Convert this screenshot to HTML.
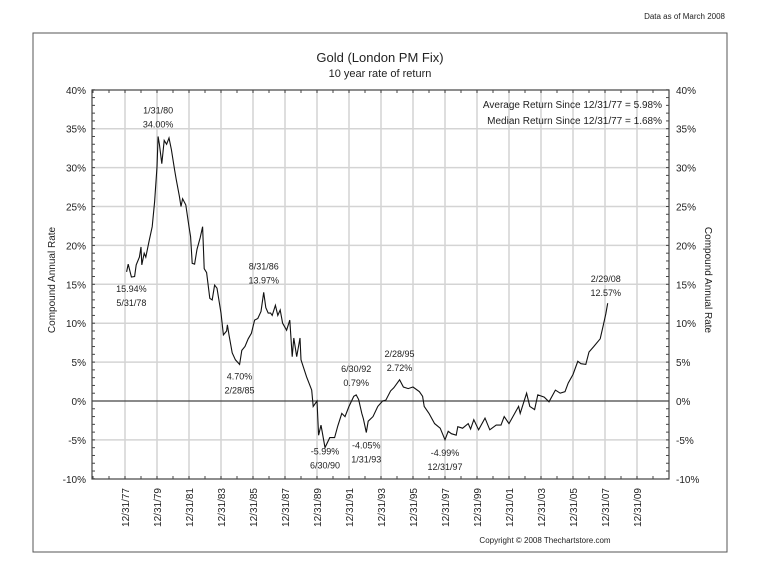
<!DOCTYPE html>
<html><head><meta charset="utf-8"><style>
html,body{margin:0;padding:0;background:#fff;}
svg{display:block;font-family:"Liberation Sans",Arial,sans-serif;}
</style></head><body>
<svg id="chart" width="760" height="587" viewBox="0 0 760 587">
<text x="725" y="19" font-size="8" text-anchor="end" fill="#222">Data as of March 2008</text>
<rect x="33" y="33" width="694" height="519" fill="none" stroke="#555" stroke-width="1"/>
<text x="380" y="62" font-size="13" text-anchor="middle" fill="#222">Gold (London PM Fix)</text>
<text x="380" y="77" font-size="11" text-anchor="middle" fill="#222">10 year rate of return</text>
<g id="grid"></g>
<g id="axes"></g>
<g id="series"></g>
<g id="notes"></g>
<text transform="translate(55,280) rotate(-90)" font-size="10" text-anchor="middle" fill="#222">Compound Annual Rate</text>
<text transform="translate(705,280) rotate(90)" font-size="10" text-anchor="middle" fill="#222">Compound Annual Rate</text>
<text x="662" y="108" font-size="10" text-anchor="end" fill="#222">Average Return Since 12/31/77 =  5.98%</text>
<text x="662" y="124" font-size="10" text-anchor="end" fill="#222">Median Return Since 12/31/77 =  1.68%</text>
<text x="545" y="543" font-size="8" text-anchor="middle" fill="#222">Copyright © 2008 Thechartstore.com</text>
</svg>
<script>
const years=[1978.1,1978.2,1978.4,1978.6,1978.7,1978.9,1979.0,1979.05,1979.2,1979.3,1979.5,1979.7,1979.85,1980.0,1980.07,1980.15,1980.3,1980.45,1980.6,1980.75,1980.9,1981.1,1981.2,1981.4,1981.5,1981.6,1981.8,1982.0,1982.1,1982.2,1982.35,1982.5,1982.7,1982.85,1982.95,1983.1,1983.3,1983.45,1983.6,1983.75,1984.0,1984.15,1984.35,1984.4,1984.5,1984.7,1984.9,1985.16,1985.3,1985.5,1985.7,1985.9,1986.1,1986.3,1986.5,1986.67,1986.8,1986.95,1987.1,1987.2,1987.4,1987.55,1987.7,1987.85,1988.1,1988.3,1988.45,1988.55,1988.73,1988.94,1989.0,1989.35,1989.67,1989.76,1990.0,1990.1,1990.25,1990.5,1990.8,1991.1,1991.3,1991.55,1991.75,1992.0,1992.3,1992.45,1992.6,1992.8,1992.9,1993.08,1993.2,1993.5,1993.8,1994.1,1994.3,1994.6,1994.8,1995.16,1995.4,1995.7,1996.0,1996.4,1996.6,1996.7,1997.0,1997.35,1997.7,1998.0,1998.2,1998.4,1998.7,1998.8,1999.1,1999.45,1999.6,1999.8,2000.1,2000.5,2000.8,2001.2,2001.5,2001.7,2002.0,2002.6,2002.7,2003.1,2003.3,2003.6,2003.8,2004.2,2004.5,2004.9,2005.2,2005.5,2005.7,2006.0,2006.3,2006.5,2006.8,2007.0,2007.3,2007.7,2007.9,2008.05,2008.17];
const returns=[16.6,17.6,15.94,16.0,17.5,18.5,19.8,17.5,19.0,18.5,20.5,22.4,25.6,30.1,34.0,33.0,30.5,33.5,33.0,33.8,32.3,29.7,28.5,26.3,25.0,26.0,25.2,22.4,21.1,17.7,17.6,19.5,21.0,22.4,17.0,16.5,13.2,13.0,14.9,14.5,11.3,8.5,9.0,9.8,8.5,6.2,5.3,4.70,6.5,7.0,8.0,8.7,10.4,10.6,11.5,13.97,12.0,11.3,11.3,11.0,12.3,11.0,11.7,10.0,9.1,10.4,5.7,8.1,5.7,8.1,5.3,3.1,1.4,-0.7,0.0,-4.4,-3.1,-5.99,-4.7,-4.7,-3.2,-1.6,-2.0,-0.7,0.6,0.79,0.2,-1.6,-2.3,-4.05,-2.6,-2.0,-0.7,0.0,0.1,1.3,1.7,2.72,1.8,1.6,1.8,1.2,0.6,-0.7,-1.6,-2.9,-3.5,-4.99,-3.9,-4.2,-4.4,-3.3,-3.5,-2.9,-3.6,-2.4,-3.7,-2.2,-3.7,-3.1,-3.1,-2.0,-2.9,-0.7,-1.6,1.0,-0.7,-1.1,0.8,0.5,-0.1,1.4,1.0,1.2,2.3,3.4,5.1,4.8,4.7,6.3,7.0,8.0,9.8,11.2,12.57];
const yTicks=[-10,-5,0,5,10,15,20,25,30,35,40];
const xTickLabels=["12/31/77","12/31/79","12/31/81","12/31/83","12/31/85","12/31/87","12/31/89","12/31/91","12/31/93","12/31/95","12/31/97","12/31/99","12/31/01","12/31/03","12/31/05","12/31/07","12/31/09"];
const xTickYears=[1978,1980,1982,1984,1986,1988,1990,1992,1994,1996,1998,2000,2002,2004,2006,2008,2010];
const annotations=[
 {yr:1980.07,v:34.0,a:"1/31/80",b:"34.00%",dx:0,dy:-23},
 {yr:1978.4,v:15.94,a:"15.94%",b:"5/31/78",dx:0,dy:15},
 {yr:1986.67,v:13.97,a:"8/31/86",b:"13.97%",dx:0,dy:-23},
 {yr:1985.16,v:4.70,a:"4.70%",b:"2/28/85",dx:0,dy:15},
 {yr:1990.5,v:-5.99,a:"-5.99%",b:"6/30/90",dx:0,dy:7},
 {yr:1992.45,v:0.79,a:"6/30/92",b:"0.79%",dx:0,dy:-23},
 {yr:1993.08,v:-4.05,a:"-4.05%",b:"1/31/93",dx:0,dy:16},
 {yr:1995.16,v:2.72,a:"2/28/95",b:"2.72%",dx:0,dy:-23},
 {yr:1998.0,v:-4.99,a:"-4.99%",b:"12/31/97",dx:0,dy:16},
 {yr:2008.17,v:12.57,a:"2/29/08",b:"12.57%",dx:-2,dy:-21}
];
const L=92,R=669,T=90,B=479;
const X=y=>125+(y-1978)*16;
const Y=v=>401-(v)*7.78;
const NS="http://www.w3.org/2000/svg";
function mk(tag,attrs,parent){const e=document.createElementNS(NS,tag);for(const k in attrs)e.setAttribute(k,attrs[k]);parent.appendChild(e);return e;}
const grid=document.getElementById('grid'),axes=document.getElementById('axes'),series=document.getElementById('series'),notes=document.getElementById('notes');
yTicks.forEach(v=>{
 if(v!==0&&v!==-10&&v!==40){const g=mk('line',{x1:L,x2:R,y1:Y(v),y2:Y(v),stroke:'#d4d4d4','stroke-width':1.5},grid);
 
 }
 const t=mk('text',{x:86,y:Y(v)+4,'font-size':10,'text-anchor':'end',fill:'#222'},axes);t.textContent=v+'%';
 
 
 const t2=mk('text',{x:676,y:Y(v)+4,'font-size':10,'text-anchor':'start',fill:'#222'},axes);t2.textContent=v+'%';
 
 
});
for(let v=-10;v<=40;v++){mk('line',{x1:L,x2:L+3,y1:Y(v),y2:Y(v),stroke:'#444'},axes);mk('line',{x1:R-3,x2:R,y1:Y(v),y2:Y(v),stroke:'#444'},axes);}
xTickYears.forEach((yr,i)=>{
 const g=mk('line',{x1:X(yr),x2:X(yr),y1:T,y2:B,stroke:'#d4d4d4','stroke-width':1.5},grid);
 
 
 const t=mk('text',{transform:`translate(${X(yr)+4},${B+9}) rotate(-90)`,'font-size':10,'text-anchor':'end',fill:'#222'},axes);t.textContent=xTickLabels[i];
 
 
});
for(let yr=1976;yr<=2011;yr++){mk('line',{x1:X(yr),x2:X(yr),y1:B-3,y2:B,stroke:'#444'},axes);mk('line',{x1:X(yr),x2:X(yr),y1:T,y2:T+3,stroke:'#444'},axes);}
const z=mk('line',{x1:L,x2:R,y1:Y(0),y2:Y(0),stroke:'#444','stroke-width':1.2},axes);


const fr=mk('rect',{x:L,y:T,width:R-L,height:B-T,fill:'none',stroke:'#444','stroke-width':1.2},axes);


const line=mk('polyline',{points:years.map((y,i)=>X(y).toFixed(1)+','+Y(returns[i]).toFixed(1)).join(' '),fill:'none',stroke:'#111','stroke-width':1.1},series);


annotations.forEach(a=>{
 const x=X(a.yr)+a.dx,y=Y(a.v)+a.dy;
 const t1=mk('text',{x:x,y:y,'font-size':9,'text-anchor':'middle',fill:'#222'},notes);t1.textContent=a.a;
 
 
 const t2=mk('text',{x:x,y:y+14,'font-size':9,'text-anchor':'middle',fill:'#222'},notes);t2.textContent=a.b;
 
 
});
</script>
</body></html>
